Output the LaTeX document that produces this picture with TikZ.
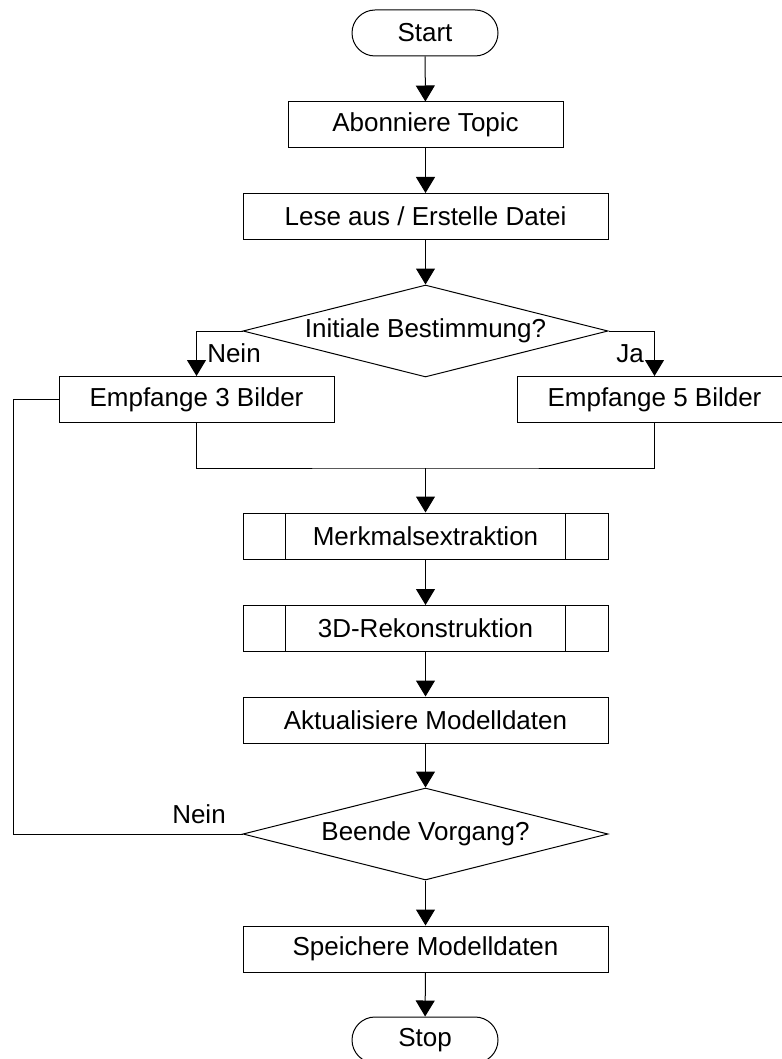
\documentclass[tikz,border=0pt]{standalone}
\usepackage{fontspec}
\setmainfont{Liberation Sans}
\usetikzlibrary{arrows.meta,shapes.geometric}

\tikzset{
  base/.style={draw=black, line width=0.75pt, inner sep=0pt,
    font=\fontsize{19.5}{23}\selectfont},
  terminal/.style={base, rectangle, rounded corners=17.25pt,
    minimum width=109.5pt, minimum height=34.5pt},
  narrowbox/.style={base, rectangle, minimum width=206.25pt, minimum height=34.5pt},
  widebox/.style={base, rectangle, minimum width=273.75pt, minimum height=34.5pt},
  subproc/.style={widebox,
    path picture={
      \draw[line width=0.75pt]
        ([xshift=31.5pt]path picture bounding box.north west) --
        ([xshift=31.5pt]path picture bounding box.south west)
        ([xshift=-32pt]path picture bounding box.north east) --
        ([xshift=-32pt]path picture bounding box.south east);
    }},
  decision/.style={base, diamond, minimum width=273.75pt, minimum height=69pt},
  txt/.style={inner sep=0pt, font=\fontsize{19.5}{23}\selectfont},
  line/.style={draw=black, line width=0.75pt},
  flow/.style={line, -{Triangle[width=14.25pt,length=12pt]}}
}

\begin{document}
\begin{tikzpicture}[x=0.75pt, y=-0.75pt]
  \useasboundingbox (0,0) rectangle (781,1059);

  % main column
  \node[terminal] (start) at (425,33) {Start};
  \node[narrowbox] (topic) at (425.5,125) {Abonniere Topic};
  \node[widebox] (datei) at (425.5,216.5) {Lese aus / Erstelle Datei};
  \node[decision, label={[txt]center:Initiale Bestimmung?}] (init) at (425.5,331) {};

  % two branches
  \node[narrowbox] (drei) at (196.5,399.5) {Empfange 3 Bilder};
  \node[narrowbox] (fuenf) at (654.5,399.5) {Empfange 5 Bilder};

  \node[subproc] (merk) at (425.5,536) {Merkmalsextraktion};
  \node[subproc] (rek) at (425.5,628.5) {3D-Rekonstruktion};
  \node[widebox] (akt) at (425.5,720) {Aktualisiere Modelldaten};
  \node[decision, label={[txt]center:Beende Vorgang?}] (ende) at (425.5,834) {};
  \node[widebox] (speich) at (425.5,949) {Speichere Modelldaten};
  \node[terminal] (stop) at (425,1040) {Stop};

  % junction points
  \coordinate (merge) at (425.5,468);
  \coordinate (loopx) at (13,0);

  % connectors
  \draw[flow] (start) -- (topic);
  \draw[flow] (topic) -- (datei);
  \draw[flow] (datei) -- (init);
  \draw[flow] (init.west) -| (drei.north);
  \draw[flow] (init.east) -| (fuenf.north);
  \draw[line] (drei.south) |- (merge) -| (fuenf.south);
  \draw[flow] (merge) -- (merk);
  \draw[flow] (merk) -- (rek);
  \draw[flow] (rek) -- (akt);
  \draw[flow] (akt) -- (ende);
  \draw[flow] (ende) -- (speich);
  \draw[flow] (speich) -- (stop);
  \draw[line] (ende.west) -- (ende.west -| loopx) |- (drei.west);

  % branch labels
  \node[txt, anchor=base west] (nein1) at (207,362) {Nein};
  \node[txt, anchor=base east] (ja) at (644,362) {Ja};
  \node[txt, anchor=base east] (nein2) at (226,823) {Nein};
\end{tikzpicture}
\end{document}
